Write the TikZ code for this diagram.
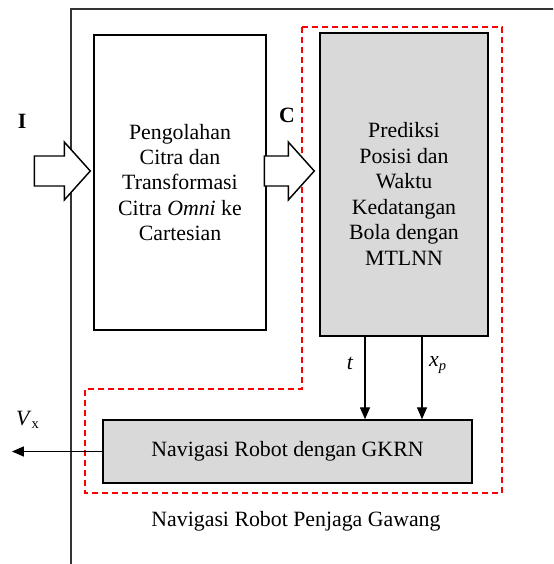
\documentclass[tikz,border=0pt]{standalone}
\usepackage{fontspec}
\setmainfont{Liberation Serif}
\usetikzlibrary{arrows.meta,calc}

\tikzset{
  blok/.style={draw, thick, align=center, inner sep=0pt},
  abu/.style={blok, fill=gray!30},
  panah/.style={line width=0.6pt, -{Triangle[length=6.5pt,width=5.5pt]}},
  batas/.style={red, line width=0.6pt, dash pattern=on 3.3pt off 2.2pt},
  besar/.style={thick, fill=white, line join=miter}
}

% panah blok: ujung, panjang batang
\newcommand{\panahblok}[2]{%
  \draw[besar] (#1) -- ++(-26,-29) -- ++(0,14) -- ++(-#2,0) -- ++(0,30)
    -- ++(#2,0) -- ++(0,14) -- cycle;}

\begin{document}
\begin{tikzpicture}[x=0.55pt, y=-0.55pt, font=\fontsize{12}{14}\selectfont]
    \useasboundingbox (0,0) rectangle (553,564);
    \clip (0,0) rectangle (553,564);
    \draw[semithick, black!80] (71,9) rectangle (620,640);

    % blok utama
    \node[blok, minimum width=94.6pt, minimum height=162.3pt] (olah) at (180,182.5)
      {Pengolahan\\Citra dan\\Transformasi\\Citra \textit{Omni} ke\\Cartesian};
    \node[abu, minimum width=92.4pt, minimum height=166.7pt] (prediksi) at (404,184.5) {};
    \node[align=center] (tekspred) at (404,194)
      {Prediksi\\Posisi dan\\Waktu\\Kedatangan\\Bola dengan\\MTLNN};
    \node[abu, minimum width=203pt, minimum height=34.7pt] (navigasi) at (287.5,451.5)
      {Navigasi Robot dengan GKRN};

    % daerah putus-putus
    \draw[batas] (302,27) -- (502,27) -- (502,493) -- (85,493) -- (85,389)
      -- (302,389) -- cycle;

    % masukan
    \coordinate (ujungI) at ($(olah.west)+(-3,-11.5)$);
    \coordinate (ujungC) at ($(prediksi.west)+(-5,-13.5)$);
    \panahblok{ujungI}{30}
    \panahblok{ujungC}{24}
    \node[font=\fontsize{12}{14}\selectfont\bfseries] (masukI) at (22,121) {I};
    \node[font=\fontsize{12}{14}\selectfont\bfseries] (masukC) at (287,115) {C};

    % keluaran prediksi
    \coordinate (xt) at (365,0);
    \coordinate (xp) at (422,0);
    \draw[panah] (prediksi.south -| xt) -- (navigasi.north -| xt);
    \draw[panah] (prediksi.south -| xp) -- (navigasi.north -| xp);
    \node (labelt) at (350,363) {\textit{t}};
    \node (labelxp) at (438,365) {\textit{x}\textsubscript{\textit{p}}};

    % keluaran kecepatan
    \coordinate (ujungV) at (12,451.5);
    \draw[panah] (navigasi.west) -- (ujungV);
    \node (labelV) at (28,420) {\textit{V}\textsubscript{x}};

    \node (judul) at (296,521) {Navigasi Robot Penjaga Gawang};
\end{tikzpicture}
\end{document}
